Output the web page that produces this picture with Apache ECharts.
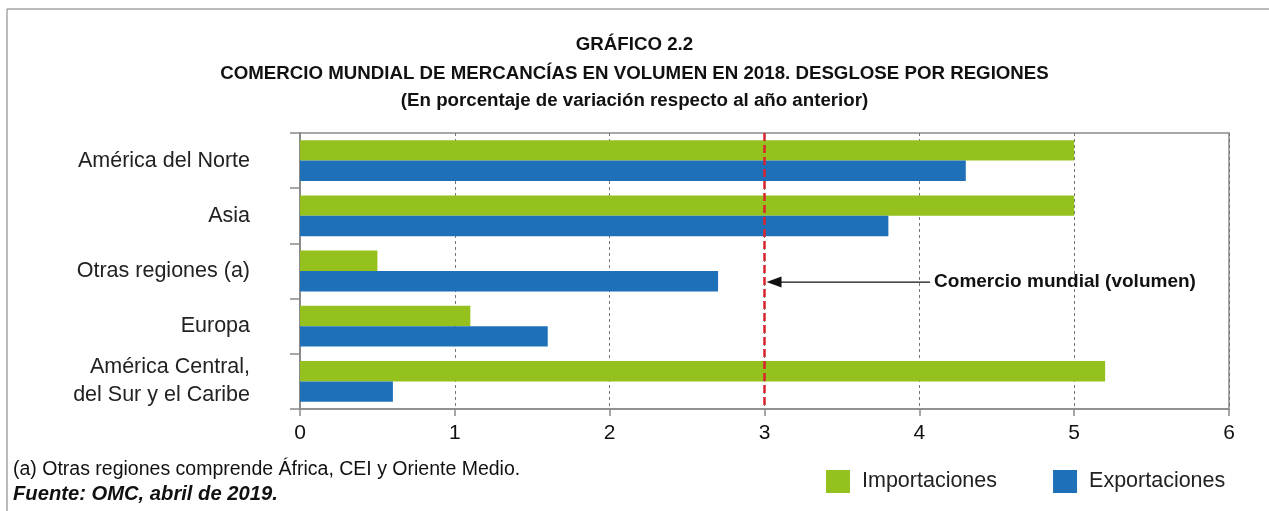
<!DOCTYPE html>
<html><head><meta charset="utf-8">
<script src="https://cdn.jsdelivr.net/npm/echarts/dist/echarts.min.js"></script>
<style>html,body{margin:0;padding:0;background:#fff}#c{width:1269px;height:511px}</style>
</head><body><div id="c"></div>
<script>
const categories = ['América del Norte', 'Asia', 'Otras regiones (a)', 'Europa', 'América Central,\ndel Sur y el Caribe'];
const importaciones = [5.0, 5.0, 0.5, 1.1, 5.2];
const exportaciones = [4.3, 3.8, 2.7, 1.6, 0.6];
const seriesNames = ['Importaciones', 'Exportaciones'];
const worldTradeVolume = 3.0;
const titleLines = ['GRÁFICO 2.2', 'COMERCIO MUNDIAL DE MERCANCÍAS EN VOLUMEN EN 2018. DESGLOSE POR REGIONES', '(En porcentaje de variación respecto al año anterior)'];
const noteLines = ['(a) Otras regiones comprende África, CEI y Oriente Medio.', 'Fuente: OMC, abril de 2019.'];
const annotationText = 'Comercio mundial (volumen)';

const chart = echarts.init(document.getElementById('c'), null, {renderer: 'canvas'});
const sans = "'Liberation Sans', Arial, Helvetica, sans-serif";

const option = {
  animation: false,
  backgroundColor: '#fff',
  title: titleLines.map((t, i) => ({
    text: t, left: 'center', top: [30, 59, 86][i], padding: 5,
    textStyle: {fontFamily: sans, fontWeight: 'bold', fontSize: 18.7, color: '#111'}
  })),
  legend: {
    left: 826, top: 470, padding: 0, itemWidth: 24, itemHeight: 23, itemGap: 56, icon: 'rect',
    data: seriesNames,
    textStyle: {fontFamily: sans, fontSize: 21.5, color: '#222', padding: [0, 0, 0, 7]}
  },
  grid: {left: 300, right: 40, top: 133, bottom: 102, show: true, borderColor: '#8a8a8a', borderWidth: 1.5},
  xAxis: {
    type: 'value', min: 0, max: 6, interval: 1,
    axisLine: {show: true, lineStyle: {color: '#8a8a8a', width: 1.5}},
    axisTick: {show: true, length: 7, lineStyle: {color: '#8a8a8a', width: 1.5}},
    axisLabel: {fontFamily: sans, fontSize: 21, color: '#111', margin: 14},
    splitLine: {show: true, lineStyle: {color: '#777', width: 1, type: [3, 3]}}
  },
  yAxis: {
    type: 'category', inverse: true, data: categories,
    axisLine: {show: true, lineStyle: {color: '#8a8a8a', width: 2}},
    axisTick: {show: true, length: 10, lineStyle: {color: '#8a8a8a', width: 1.5}},
    axisLabel: {fontFamily: sans, fontSize: 21.5, color: '#222', margin: 50, lineHeight: 28, align: 'right'},
    splitLine: {show: false}
  },
  series: [
    {
      name: seriesNames[0], type: 'bar', data: importaciones, barGap: '0%', barCategoryGap: '26%',
      itemStyle: {color: '#95c11f'},
      markLine: {
        silent: true, symbol: 'none', label: {show: false},
        lineStyle: {color: '#d9232e', width: 2.5, type: [8, 4]},
        data: [{xAxis: worldTradeVolume}]
      }
    },
    {
      name: seriesNames[1], type: 'bar', data: exportaciones, barGap: '0%', barCategoryGap: '26%',
      itemStyle: {color: '#1e70b8'}
    }
  ]
};
chart.setOption(option);

// Annotation anchored through the axes
const xLine = chart.convertToPixel({xAxisIndex: 0}, worldTradeVolume);
const xText = chart.convertToPixel({xAxisIndex: 0}, 4.05) + 7;
const y2 = chart.convertToPixel({yAxisIndex: 0}, 2);
const y1 = chart.convertToPixel({yAxisIndex: 0}, 1);
const band = Math.abs(y2 - y1);
const yArrow = y2 + band * 0.2;
chart.setOption({
  graphic: [
    {type: 'line', shape: {x1: 7, y1: 9, x2: 1269, y2: 9}, style: {stroke: '#a6a6a6', lineWidth: 1.5}},
    {type: 'line', shape: {x1: 7, y1: 9, x2: 7, y2: 511}, style: {stroke: '#a6a6a6', lineWidth: 1.5}},
    {type: 'line', z: 100, shape: {x1: xLine + 14, y1: yArrow, x2: xText - 4, y2: yArrow}, style: {stroke: '#111', lineWidth: 1.3}},
    {type: 'polygon', z: 100, shape: {points: [[xLine + 2, yArrow], [xLine + 17, yArrow - 5.5], [xLine + 17, yArrow + 5.5]]}, style: {fill: '#111'}},
    {type: 'text', z: 100, x: xText, y: yArrow, style: {text: annotationText, fontFamily: sans, fontSize: 19, fontWeight: 'bold', fill: '#111', textVerticalAlign: 'middle', verticalAlign: 'middle'}},
    {type: 'text', x: 13, y: 470, style: {text: noteLines[0], fontFamily: sans, fontSize: 19.5, fill: '#111', verticalAlign: 'middle', textVerticalAlign: 'middle'}},
    {type: 'text', x: 13, y: 494, style: {text: noteLines[1], fontFamily: sans, fontSize: 20.2, fontWeight: 'bold', fontStyle: 'italic', fill: '#111', verticalAlign: 'middle', textVerticalAlign: 'middle'}}
  ]
});
</script></body></html>
